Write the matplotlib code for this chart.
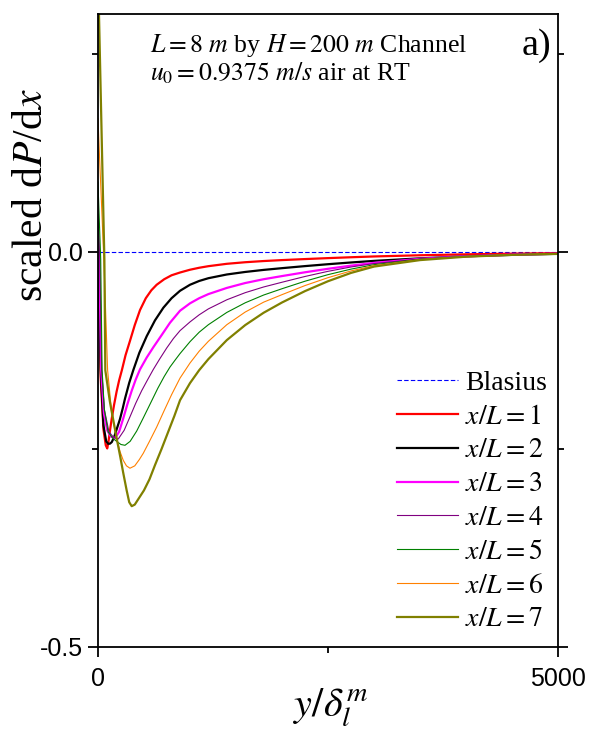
import matplotlib
matplotlib.use('Agg')
import matplotlib.pyplot as plt
from matplotlib.ticker import FixedLocator

plt.rcParams['mathtext.fontset'] = 'stix'
plt.rcParams['axes.unicode_minus'] = False

# far-field positions shared by all curves
x_tail = [1000, 1100, 1200, 1400, 1600, 1800, 2000, 2250, 2500, 2750, 3000, 3500, 4000, 4500, 5000]

# x/L = 1
x_red = [0, 30, 60, 85, 101, 115, 130, 149, 175, 203, 230, 260, 300, 348, 400, 457, 520, 580, 638, 720,
         800, 892]
y_red = [0.0, -0.16, -0.225, -0.245, -0.249, -0.240, -0.227, -0.212, -0.194, -0.177, -0.163, -0.150,
         -0.131, -0.113, -0.093, -0.074, -0.059, -0.049, -0.042, -0.035, -0.030, -0.0265]
t_red = [-0.023, -0.0205, -0.0185, -0.0155, -0.0135, -0.012, -0.0108, -0.0095, -0.0083, -0.0072,
         -0.0062, -0.0047, -0.0035, -0.0027, -0.002]

# x/L = 2
x_black = [0, 30, 60, 90, 110, 130, 150, 175, 200, 239, 270, 294, 340, 384, 450, 530, 620, 711, 800, 892]
y_black = [0.01, -0.15, -0.22, -0.240, -0.243, -0.243, -0.241, -0.235, -0.226, -0.212, -0.198, -0.186,
           -0.166, -0.150, -0.128, -0.107, -0.087, -0.071, -0.059, -0.0496]
t_black = [-0.0420, -0.0372, -0.0337, -0.0290, -0.0258, -0.0232, -0.0210, -0.0184, -0.0160, -0.0138,
           -0.0118, -0.0086, -0.0060, -0.0042, -0.0028]

# x/L = 3
x_mag = [0, 15, 35, 65, 100, 140, 185, 230, 275, 320, 367, 410, 457, 530, 602, 690, 783, 892]
y_mag = [0.027, -0.01, -0.15, -0.205, -0.226, -0.234, -0.236, -0.228, -0.211, -0.193, -0.176, -0.162,
         -0.149, -0.134, -0.121, -0.106, -0.090, -0.0748]
t_mag = [-0.0655, -0.0590, -0.0538, -0.0460, -0.0398, -0.0350, -0.0310, -0.0262, -0.0218, -0.0178,
         -0.0143, -0.0092, -0.0060, -0.0039, -0.0027]

# x/L = 4
x_pur = [0, 20, 40, 70, 120, 170, 221, 285, 348, 410, 475, 540, 602, 670, 747, 820, 892]
y_pur = [0.047, -0.01, -0.15, -0.20, -0.228, -0.235, -0.237, -0.226, -0.209, -0.192, -0.176, -0.162,
         -0.149, -0.136, -0.122, -0.110, -0.100]
t_pur = [-0.089, -0.080, -0.0725, -0.0610, -0.0520, -0.0448, -0.0388, -0.0315, -0.0250, -0.0195,
         -0.0152, -0.0093, -0.0060, -0.0039, -0.0027]

# x/L = 5
x_grn = [0, 30, 45, 70, 110, 160, 203, 250, 294, 350, 421, 490, 566, 650, 720, 783, 840, 892]
y_grn = [0.088, -0.01, -0.15, -0.20, -0.228, -0.236, -0.240, -0.244, -0.245, -0.240, -0.227, -0.211,
         -0.193, -0.173, -0.158, -0.146, -0.137, -0.129]
t_grn = [-0.114, -0.102, -0.0925, -0.0770, -0.0648, -0.0550, -0.0470, -0.0375, -0.0292, -0.0222,
         -0.0166, -0.0098, -0.0062, -0.0040, -0.0027]

# x/L = 6
x_org = [0, 65, 105, 150, 203, 240, 275, 310, 348, 400, 450, 493, 560, 638, 720, 800, 892]
y_org = [0.168, -0.012, -0.15, -0.205, -0.236, -0.253, -0.264, -0.271, -0.274, -0.271, -0.263, -0.255,
         -0.240, -0.222, -0.201, -0.181, -0.160]
t_org = [-0.141, -0.126, -0.1135, -0.0925, -0.0765, -0.0640, -0.0545, -0.0430, -0.0330, -0.0245,
         -0.0178, -0.0102, -0.0062, -0.0040, -0.0028]

# x/L = 7
x_olv = [0, 70, 80, 130, 165, 203, 240, 275, 312, 340, 367, 400, 450, 500, 560, 620, 690, 760, 830, 892]
y_olv = [0.36, -0.01, -0.15, -0.19, -0.212, -0.236, -0.258, -0.280, -0.302, -0.317, -0.322, -0.320,
         -0.311, -0.302, -0.288, -0.270, -0.250, -0.229, -0.208, -0.188]
t_olv = [-0.1664, -0.150, -0.136, -0.112, -0.093, -0.0774, -0.0644, -0.0500, -0.0375, -0.0270,
         -0.0190, -0.0108, -0.0065, -0.0042, -0.003]

x_blasius = [0, 5000]
y_blasius = [0.0, 0.0]

curves = [
    (x_red, y_red, t_red, '#ff0000', 1.6, 'x/L = 1'),
    (x_black, y_black, t_black, '#000000', 1.6, 'x/L = 2'),
    (x_mag, y_mag, t_mag, '#ff00ff', 1.6, 'x/L = 3'),
    (x_pur, y_pur, t_pur, '#800080', 0.8, 'x/L = 4'),
    (x_grn, y_grn, t_grn, '#008000', 0.8, 'x/L = 5'),
    (x_org, y_org, t_org, '#ff8000', 0.8, 'x/L = 6'),
    (x_olv, y_olv, t_olv, '#808000', 1.6, 'x/L = 7'),
]

fig = plt.figure(figsize=(5.9, 7.54), dpi=100)
ax = fig.add_axes([0.166, 0.142, 0.780, 0.839])

ax.plot(x_blasius, y_blasius, color='#0000ff', lw=0.8, ls=(0, (4, 2)), label='Blasius')
for xs, ys, ts, col, lw, lab in curves:
    ax.plot(xs + x_tail, ys + ts, color=col, lw=lw, label='$' + lab + '$')

ax.set_xlim(0, 5000)
ax.set_ylim(-0.5, 0.3)
ax.set_xticks([0, 5000])
ax.set_yticks([-0.5, 0.0])
ax.xaxis.set_minor_locator(FixedLocator([2500]))
ax.yaxis.set_minor_locator(FixedLocator([-0.25, 0.25]))
ax.tick_params(which='both', direction='out', right=True, top=False, width=1.3,
               labelsize=18)
ax.tick_params(which='major', length=7.5)
ax.tick_params(which='minor', length=4.5)
ax.tick_params(axis='x', which='major', pad=7)
for lab in ax.get_xticklabels() + ax.get_yticklabels():
    lab.set_family('Liberation Sans')
for s in ax.spines.values():
    s.set_linewidth(1.3)

ax.set_ylabel('scaled d$P$/d$x$', family='Liberation Serif', fontsize=30)
ax.yaxis.set_label_coords(-0.102, 0.714)
ax.set_xlabel(r'$y/\delta_l^m$', fontsize=29)
ax.xaxis.set_label_coords(0.505, -0.062)

ax.text(0.113, 0.940, '$L = 8$ $m$ by $H = 200$ $m$ Channel', transform=ax.transAxes,
        fontsize=18.5, family='Liberation Serif', va='baseline')
ax.text(0.113, 0.896, '$u_0 = 0.9375$ $m/s$ air at RT', transform=ax.transAxes,
        fontsize=18.5, family='Liberation Serif', va='baseline')
ax.text(0.921, 0.936, 'a)', transform=ax.transAxes, fontsize=27.5,
        family='Liberation Serif', va='baseline')

leg = ax.legend(loc='upper left', bbox_to_anchor=(0.649, 0.437), frameon=False,
                prop={'family': 'Liberation Serif', 'size': 20},
                handlelength=2.2, handletextpad=0.28, labelspacing=0.30,
                borderpad=0, borderaxespad=0)

fig.savefig('out.png', dpi=100)
